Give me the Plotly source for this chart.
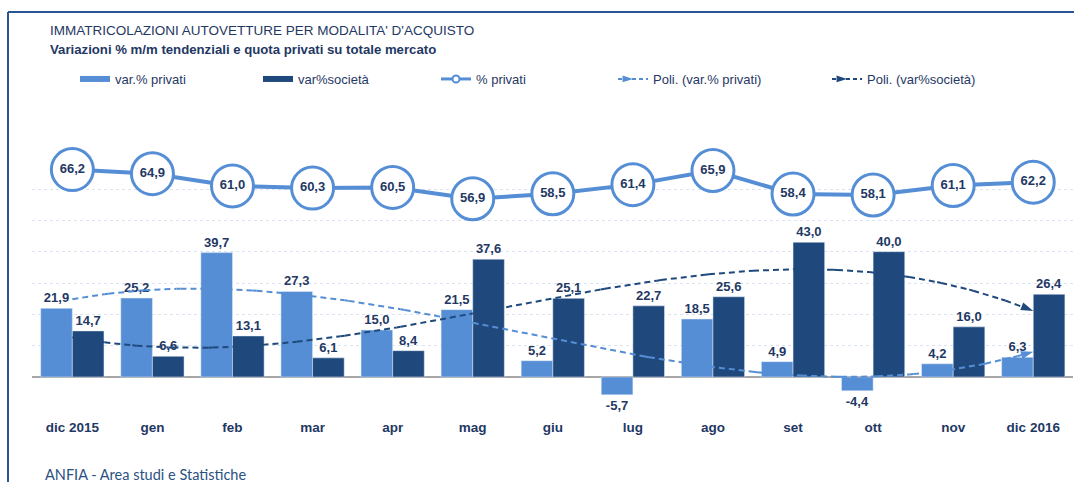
import numpy as np
import plotly.graph_objects as go

# ---------------- data ----------------
categories = ["dic 2015", "gen", "feb", "mar", "apr", "mag", "giu",
              "lug", "ago", "set", "ott", "nov", "dic 2016"]
var_privati = [21.9, 25.2, 39.7, 27.3, 15.0, 21.5, 5.2, -5.7, 18.5, 4.9, -4.4, 4.2, 6.3]
var_societa = [14.7, 6.6, 13.1, 6.1, 8.4, 37.6, 25.1, 22.7, 25.6, 43.0, 40.0, 16.0, 26.4]
quota_privati = [66.2, 64.9, 61.0, 60.3, 60.5, 56.9, 58.5, 61.4, 65.9, 58.4, 58.1, 61.1, 62.2]

title_text = "IMMATRICOLAZIONI AUTOVETTURE PER MODALITA' D'ACQUISTO"
subtitle_text = "Variazioni % m/m tendenziali e quota privati su totale mercato"
footer_text = "ANFIA - Area studi e Statistiche"
legend_names = ["var.% privati", "var%società", "% privati",
                "Poli. (var.% privati)", "Poli. (var%società)"]

# ---------------- styling ----------------
W, H = 1074, 482
LIGHT = "#558ED5"
DARK = "#1F497D"
TEXT = "#1F3864"
FRAME = "#2B5592"
FONT = "Liberation Sans, Arial, sans-serif"
POLY_ORDER = 3

PL, PR, PT, PB = 32.3, 1073.3, 157.7, 408.3   # plot area in pixels
YMIN, YMAX = -10, 70


def px(x):
    return x / W


def py(y):
    return 1 - y / H


n_cat = len(categories)
xi = np.arange(n_cat)
xs = np.linspace(0, n_cat - 1, 241)
trend_p = np.polyval(np.polyfit(xi, var_privati, POLY_ORDER), xs)
trend_s = np.polyval(np.polyfit(xi, var_societa, POLY_ORDER), xs)

fig = go.Figure()

# ---- soft shadow of the "% privati" line (subplot xy, drawn first) ----
for size, lw, alpha in [(48, 8, 0.07), (44, 5, 0.13)]:
    fig.add_trace(go.Scatter(x=xi, y=quota_privati, mode="lines+markers", showlegend=False,
                             line=dict(color=f"rgba(0,0,0,{alpha})", width=lw),
                             marker=dict(size=size, color=f"rgba(0,0,0,{alpha})", line=dict(width=0)),
                             cliponaxis=False, hoverinfo="skip", xaxis="x", yaxis="y"))

bar_font = dict(family=FONT, size=13, color=TEXT, weight="bold")
fig.add_trace(go.Bar(x=xi, y=var_privati, name=legend_names[0], marker_color=LIGHT,
                     texttemplate="%{y:.1f}", textposition="outside", textfont=bar_font,
                     cliponaxis=False, showlegend=False, offsetgroup="a",
                     xaxis="x2", yaxis="y2"))
fig.add_trace(go.Bar(x=xi, y=var_societa, name=legend_names[1], marker_color=DARK,
                     texttemplate="%{y:.1f}", textposition="outside", textfont=bar_font,
                     cliponaxis=False, showlegend=False, offsetgroup="b",
                     xaxis="x2", yaxis="y2"))


def trend_trace(y, color, name):
    n = len(xs)
    sizes = [0] * (n - 1) + [13]
    op = [0] * (n - 1) + [1]
    return go.Scatter(x=xs, y=y, mode="lines+markers", name=name, showlegend=False,
                      line=dict(color=color, width=2, dash="6px,4px"),
                      marker=dict(symbol="arrow", size=sizes, opacity=op, color=color,
                                  angleref="previous", line=dict(width=0)),
                      cliponaxis=False, hoverinfo="skip", xaxis="x2", yaxis="y2")


fig.add_trace(trend_trace(trend_p, LIGHT, legend_names[3]))
fig.add_trace(trend_trace(trend_s, DARK, legend_names[4]))

fig.add_trace(go.Scatter(x=xi, y=quota_privati, mode="lines+markers+text", name=legend_names[2],
                         showlegend=False,
                         line=dict(color=LIGHT, width=4),
                         marker=dict(size=42, color="white", line=dict(color=LIGHT, width=3)),
                         texttemplate="%{y:.1f}", textposition="middle center",
                         textfont=bar_font, cliponaxis=False, xaxis="x2", yaxis="y2"))

# ---------- legend (one legend per entry, positioned like the original) ----------
legend_text_x = [116, 299, 477, 654, 868]
leg_specs = [
    dict(mode="lines", line=dict(color=LIGHT, width=6)),
    dict(mode="lines", line=dict(color=DARK, width=6)),
    dict(mode="lines+markers", line=dict(color=LIGHT, width=3),
         marker=dict(size=7, color="white", line=dict(color=LIGHT, width=2))),
    dict(mode="lines+markers", line=dict(color=LIGHT, width=2, dash="4px,3px"),
         marker=dict(symbol="arrow", size=11, angle=90, color=LIGHT)),
    dict(mode="lines+markers", line=dict(color=DARK, width=2, dash="4px,3px"),
         marker=dict(symbol="arrow", size=11, angle=90, color=DARK)),
]
for k, (nm, spec) in enumerate(zip(legend_names, leg_specs)):
    lname = "legend" if k == 0 else f"legend{k + 1}"
    fig.add_trace(go.Scatter(x=[None], y=[None], name=nm, legend=lname, showlegend=True,
                             xaxis="x2", yaxis="y2", **spec))
    fig.update_layout({lname: dict(x=px(legend_text_x[k] - 41), y=py(79), xanchor="left",
                                   yanchor="middle", orientation="h",
                                   bgcolor="rgba(0,0,0,0)",
                                   font=dict(family=FONT, size=13, color=TEXT))})

# shadow axes: same scale, offset a few pixels right / down
SDX, SDY = 3, 4
s_left = PL + SDX
s_right = min(PR + SDX, W)
s_xmax = -0.5 + n_cat * (s_right - s_left) / (PR - PL)

fig.update_layout(
    width=W, height=H,
    margin=dict(l=0, r=0, t=0, b=0),
    paper_bgcolor="white", plot_bgcolor="white",
    separators=",.",
    barmode="group", bargap=0.21, bargroupgap=0,
    hovermode=False,
    xaxis=dict(domain=[px(s_left), px(s_right)], range=[-0.5, s_xmax], visible=False),
    yaxis=dict(domain=[py(PB + SDY), py(PT + SDY)], range=[YMIN, YMAX], visible=False),
    xaxis2=dict(domain=[px(PL), px(PR)], range=[-0.5, n_cat - 0.5], anchor="y2",
                tickmode="array", tickvals=list(xi), ticktext=categories,
                showgrid=False, zeroline=False, showline=False, ticks="",
                ticklabelstandoff=9,
                tickfont=dict(family=FONT, size=13.5, color=TEXT, weight="bold")),
    yaxis2=dict(domain=[py(PB), py(PT)], range=[YMIN, YMAX], dtick=10, anchor="x2",
                showticklabels=False, ticks="",
                showgrid=True, gridcolor="#D9E3F1", griddash="dot", gridwidth=1,
                zeroline=True, zerolinecolor="#A6A6A6", zerolinewidth=1.5),
    showlegend=True,
)

fig.add_annotation(x=px(48), y=py(30.7), xref="paper", yref="paper", xanchor="left",
                   yanchor="middle", showarrow=False, text=title_text,
                   font=dict(family=FONT, size=13.5, color=TEXT))
fig.add_annotation(x=px(48), y=py(50), xref="paper", yref="paper", xanchor="left",
                   yanchor="middle", showarrow=False, text=subtitle_text,
                   font=dict(family=FONT, size=13.2, color=TEXT, weight="bold"))
fig.add_annotation(x=px(43), y=py(474), xref="paper", yref="paper", xanchor="left",
                   yanchor="middle", showarrow=False, text=footer_text,
                   font=dict(family="Lato", size=14.5, color="#2A5182"))

# frame lines
fig.add_shape(type="line", xref="paper", yref="paper", x0=px(8), x1=1.01, y0=py(12), y1=py(12),
              line=dict(color=FRAME, width=2))
fig.add_shape(type="line", xref="paper", yref="paper", x0=px(8), x1=px(8), y0=py(12), y1=-0.01,
              line=dict(color=FRAME, width=2))

fig.write_html("out.html", config={"displayModeBar": False},
               post_script="document.body.style.margin='0';")
